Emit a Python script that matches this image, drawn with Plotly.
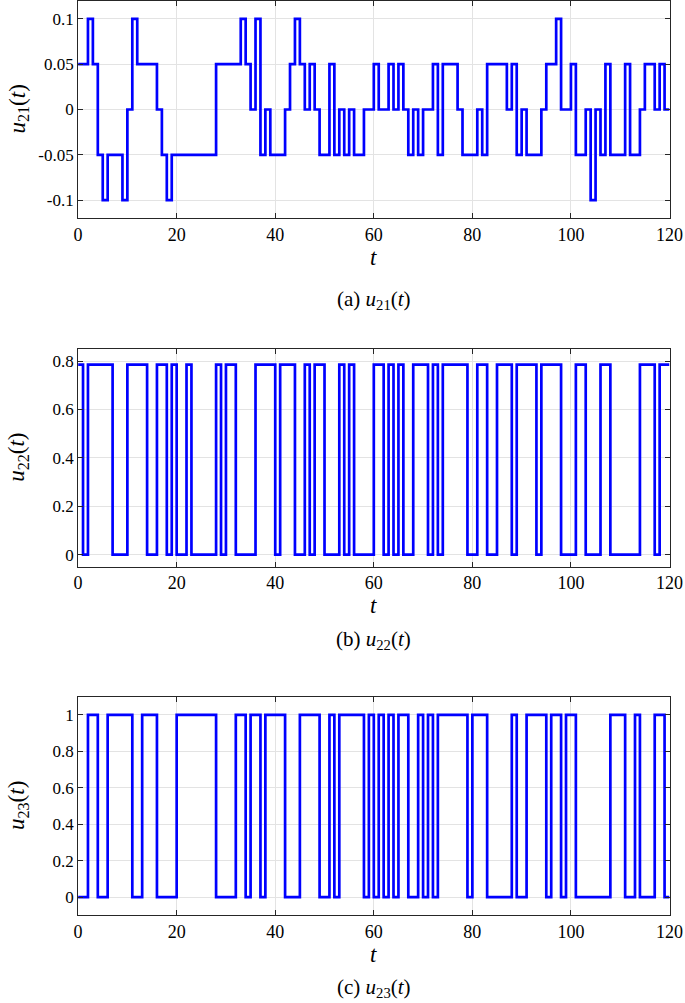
import plotly.graph_objects as go

T_END = 120

# u21: change times and levels
u21_t = [0, 2, 3, 4, 5, 6, 9, 10, 11, 12, 16, 17, 18, 19, 28, 33, 34, 35, 36, 37, 38, 39,
         42, 43, 44, 45, 46, 47, 48, 49, 51, 52, 53, 54, 55, 56, 58, 60, 61, 63, 64, 65, 66,
         67, 68, 69, 70, 72, 73, 74, 77, 78, 81, 82, 83, 87, 88, 89, 90, 91, 94, 95, 97, 98,
         100, 101, 103, 104, 105, 106, 107, 108, 111, 112, 114, 115, 117, 118, 119]
u21_v = [0.05, 0.1, 0.05, -0.05, -0.1, -0.05, -0.1, 0, 0.1, 0.05, 0, -0.05, -0.1, -0.05, 0.05,
         0.1, 0.05, 0, 0.1, -0.05, 0, -0.05,
         0, 0.05, 0.1, 0.05, 0, 0.05, 0, -0.05, 0.05, -0.05, 0, -0.05, 0, -0.05, 0, 0.05, 0,
         0.05, 0, 0.05, 0, -0.05, 0, -0.05, 0, 0.05, -0.05, 0.05, 0, -0.05, 0, -0.05, 0.05, 0,
         0.05, -0.05, 0, -0.05, 0, 0.05, 0.1, 0,
         0.05, -0.05, 0, -0.1, 0, -0.05, 0.05, -0.05, 0.05, -0.05, 0, 0.05, 0, 0.05, 0]

H22 = 0.785
u22_t = [0, 1, 2, 7, 10, 14, 16, 18, 19, 20, 22, 23, 28, 29, 30, 32, 36, 40, 41, 44, 46, 47,
         48, 50, 53, 54, 55, 56, 60, 62, 63, 64, 65, 66, 68, 71, 72, 73, 74, 79, 81, 83, 85,
         88, 89, 93, 94, 98, 101, 103, 106, 108, 114, 117, 118]
u22_v = [H22 if i % 2 == 0 else 0 for i in range(len(u22_t))]

u23_t = [0, 2, 4, 6, 11, 13, 16, 20, 28, 32, 34, 35, 37, 38, 42, 45, 49, 51, 52, 53, 58, 59,
         60, 61, 62, 63, 64, 65, 67, 69, 70, 71, 72, 73, 79, 80, 83, 88, 89, 91, 95, 96, 98,
         99, 101, 108, 111, 113, 114, 117, 119]
u23_v = [0 if i % 2 == 0 else 1 for i in range(len(u23_t))]

x_ticks = [0, 20, 40, 60, 80, 100, 120]
y1_ticks = [-0.1, -0.05, 0, 0.05, 0.1]
y1_text = ["-0.1", "-0.05", "0", "0.05", "0.1"]
y2_ticks = [0, 0.2, 0.4, 0.6, 0.8]
y3_ticks = [0, 0.2, 0.4, 0.6, 0.8, 1]

W, H = 685, 1003
FONT = "Liberation Serif, Times New Roman, serif"
AX = "#262626"
GRID = "#e3e3e3"
BLUE = "#0000ff"

def ext(t, v):
    return list(t) + [T_END], list(v) + [v[-1]]

# (series times, values, frame top/bottom px, y range, ticks, tick text, subscript, label, caption y px)
panels = [
    (u21_t, u21_v, (0.7, 218.3), [-0.12, 0.12], y1_ticks, y1_text, "21", "(a)", 300),
    (u22_t, u22_v, (349.0, 566.7), [-0.05, 0.85], y2_ticks, [str(v) for v in y2_ticks], "22", "(b)", 640),
    (u23_t, u23_v, (696.7, 915.3), [-0.1, 1.1], y3_ticks, [str(v) for v in y3_ticks], "23", "(c)", 988),
]

fig = go.Figure()
x0p, x1p = 78.1, 669.5
xdom = [x0p / W, x1p / W]
annotations = []
for i, (t, v, (top, bot), yr, yt, ytt, sub, lab, cap_y) in enumerate(panels):
    n = i + 1
    xs, ys = ext(t, v)
    fig.add_trace(go.Scatter(x=xs, y=ys, mode="lines", line=dict(shape="hv", color=BLUE, width=2.7),
                             xaxis="x" if n == 1 else f"x{n}", yaxis="y" if n == 1 else f"y{n}",
                             showlegend=False, hoverinfo="skip"))
    ydom = [1 - bot / H, 1 - top / H]
    xkey = "xaxis" if n == 1 else f"xaxis{n}"
    ykey = "yaxis" if n == 1 else f"yaxis{n}"
    fig.update_layout(**{
        xkey: dict(domain=xdom, range=[0, 120], tickvals=x_ticks, ticks="inside", ticklen=5,
                   tickcolor=AX, showline=True, linecolor=AX, linewidth=1, mirror="ticks",
                   showgrid=True, gridcolor=GRID, gridwidth=1, zeroline=False, automargin=False,
                   anchor="y" if n == 1 else f"y{n}",
                   tickfont=dict(family=FONT, size=18, color="black")),
        ykey: dict(domain=ydom, range=yr, tickvals=yt, ticktext=ytt, ticks="inside", ticklen=5,
                   tickcolor=AX, showline=True, linecolor=AX, linewidth=1, mirror="ticks",
                   showgrid=True, gridcolor=GRID, gridwidth=1, zeroline=False, automargin=False,
                   anchor="x" if n == 1 else f"x{n}",
                   tickfont=dict(family=FONT, size=17, color="black")),
    })
    xc = (x0p + x1p) / 2 / W
    annotations.append(dict(text="<i>t</i>", x=xc, y=1 - (bot + 39) / H, xref="paper", yref="paper",
                            showarrow=False, font=dict(family=FONT, size=23, color="black"),
                            xanchor="center", yanchor="middle"))
    annotations.append(dict(text=f"{lab} <i>u</i><sub>{sub}</sub>(<i>t</i>)", x=xc, y=1 - cap_y / H,
                            xref="paper", yref="paper", showarrow=False,
                            font=dict(family=FONT, size=21, color="black"),
                            xanchor="center", yanchor="middle"))
    annotations.append(dict(text=f"<i>u</i><sub>{sub}</sub>(<i>t</i>)", x=18 / W, y=1 - (top + bot) / 2 / H,
                            xref="paper", yref="paper", showarrow=False, textangle=-90,
                            font=dict(family=FONT, size=23, color="black"),
                            xanchor="center", yanchor="middle"))

fig.update_layout(width=W, height=H, margin=dict(l=0, r=0, t=0, b=0),
                  paper_bgcolor="white", plot_bgcolor="white", annotations=annotations)
fig.write_html("out.html", config={"displayModeBar": False},
               post_script="document.body.style.margin='0';document.body.style.padding='0';")
